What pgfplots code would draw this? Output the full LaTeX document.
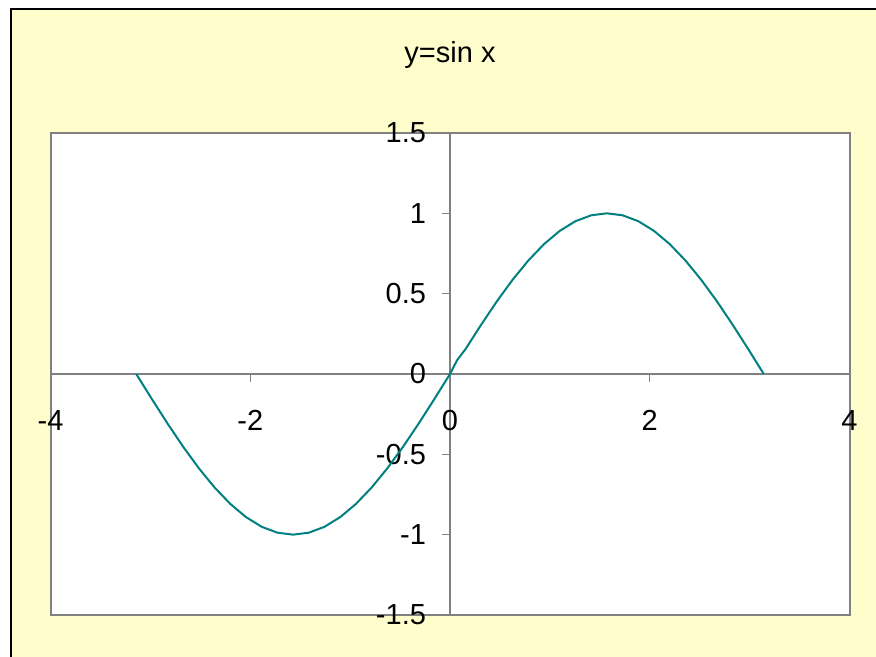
\documentclass[border=0pt]{standalone}
\usepackage{fontspec}
\setmainfont{Liberation Sans}
\usepackage{pgfplots}
\pgfplotsset{compat=1.18}
\definecolor{bgyellow}{RGB}{255,253,204}
\definecolor{teal}{RGB}{0,128,128}
\definecolor{axgray}{RGB}{128,128,128}
\begin{document}
\begin{tikzpicture}[x=0.5pt,y=0.5pt]
\useasboundingbox (0,0) rectangle (876,657);
\fill[white] (0,0) rectangle (876,657);
\fill[bgyellow] (11,0) rectangle (876,648);
\draw[black, line width=1pt] (11,0) -- (11,648) -- (876,648);
\node[anchor=base, font=\fontsize{14.5}{17}\selectfont] at (450,594) {y=sin x};
\begin{axis}[
  at={(225pt,141.5pt)}, anchor=origin,
  scale only axis, width=399.5pt, height=241pt,
  xmin=-4, xmax=4, ymin=-1.5, ymax=1.5,
  enlargelimits=false,
  axis lines=middle,
  axis line style={-, draw=axgray, line width=0.6pt},
  axis background/.style={fill=white, draw=axgray, line width=1pt},
  hide obscured x ticks=false, hide obscured y ticks=false,
  tick align=outside, major tick length=4pt,
  tick style={draw=axgray, line width=0.6pt},
  xtick={-4,-2,0,2,4}, xticklabels={-4,-2,0,2,4},
  ytick={-1.5,-1,-0.5,0,0.5,1,1.5}, yticklabels={-1.5,-1,-0.5,0,0.5,1,1.5},
  ticklabel style={font=\fontsize{14.5}{17}\selectfont},
  xticklabel style={yshift=-10.5pt},
  yticklabel style={xshift=-4.5pt},
  clip=false,
]
\addplot[teal, line width=1pt, mark=none] coordinates {
(-3.1416,0) (-2.9845,-0.1564) (-2.8274,-0.3090) (-2.6704,-0.4540) (-2.5133,-0.5878)
(-2.3562,-0.7071) (-2.1991,-0.8090) (-2.0420,-0.8910) (-1.8850,-0.9511) (-1.7279,-0.9877)
(-1.5708,-1) (-1.4137,-0.9877) (-1.2566,-0.9511) (-1.0996,-0.8910) (-0.9425,-0.8090)
(-0.7854,-0.7071) (-0.6283,-0.5878) (-0.4712,-0.4540) (-0.3142,-0.3090) (-0.1571,-0.1564)
(0,0) (0.07,0.085) (0.1571,0.1564) (0.3142,0.3090) (0.4712,0.4540) (0.6283,0.5878)
(0.7854,0.7071) (0.9425,0.8090) (1.0996,0.8910) (1.2566,0.9511) (1.4137,0.9877)
(1.5708,1) (1.7279,0.9877) (1.8850,0.9511) (2.0420,0.8910) (2.1991,0.8090)
(2.3562,0.7071) (2.5133,0.5878) (2.6704,0.4540) (2.8274,0.3090) (2.9845,0.1564)
(3.1416,0)
};
\end{axis}
\end{tikzpicture}
\end{document}
